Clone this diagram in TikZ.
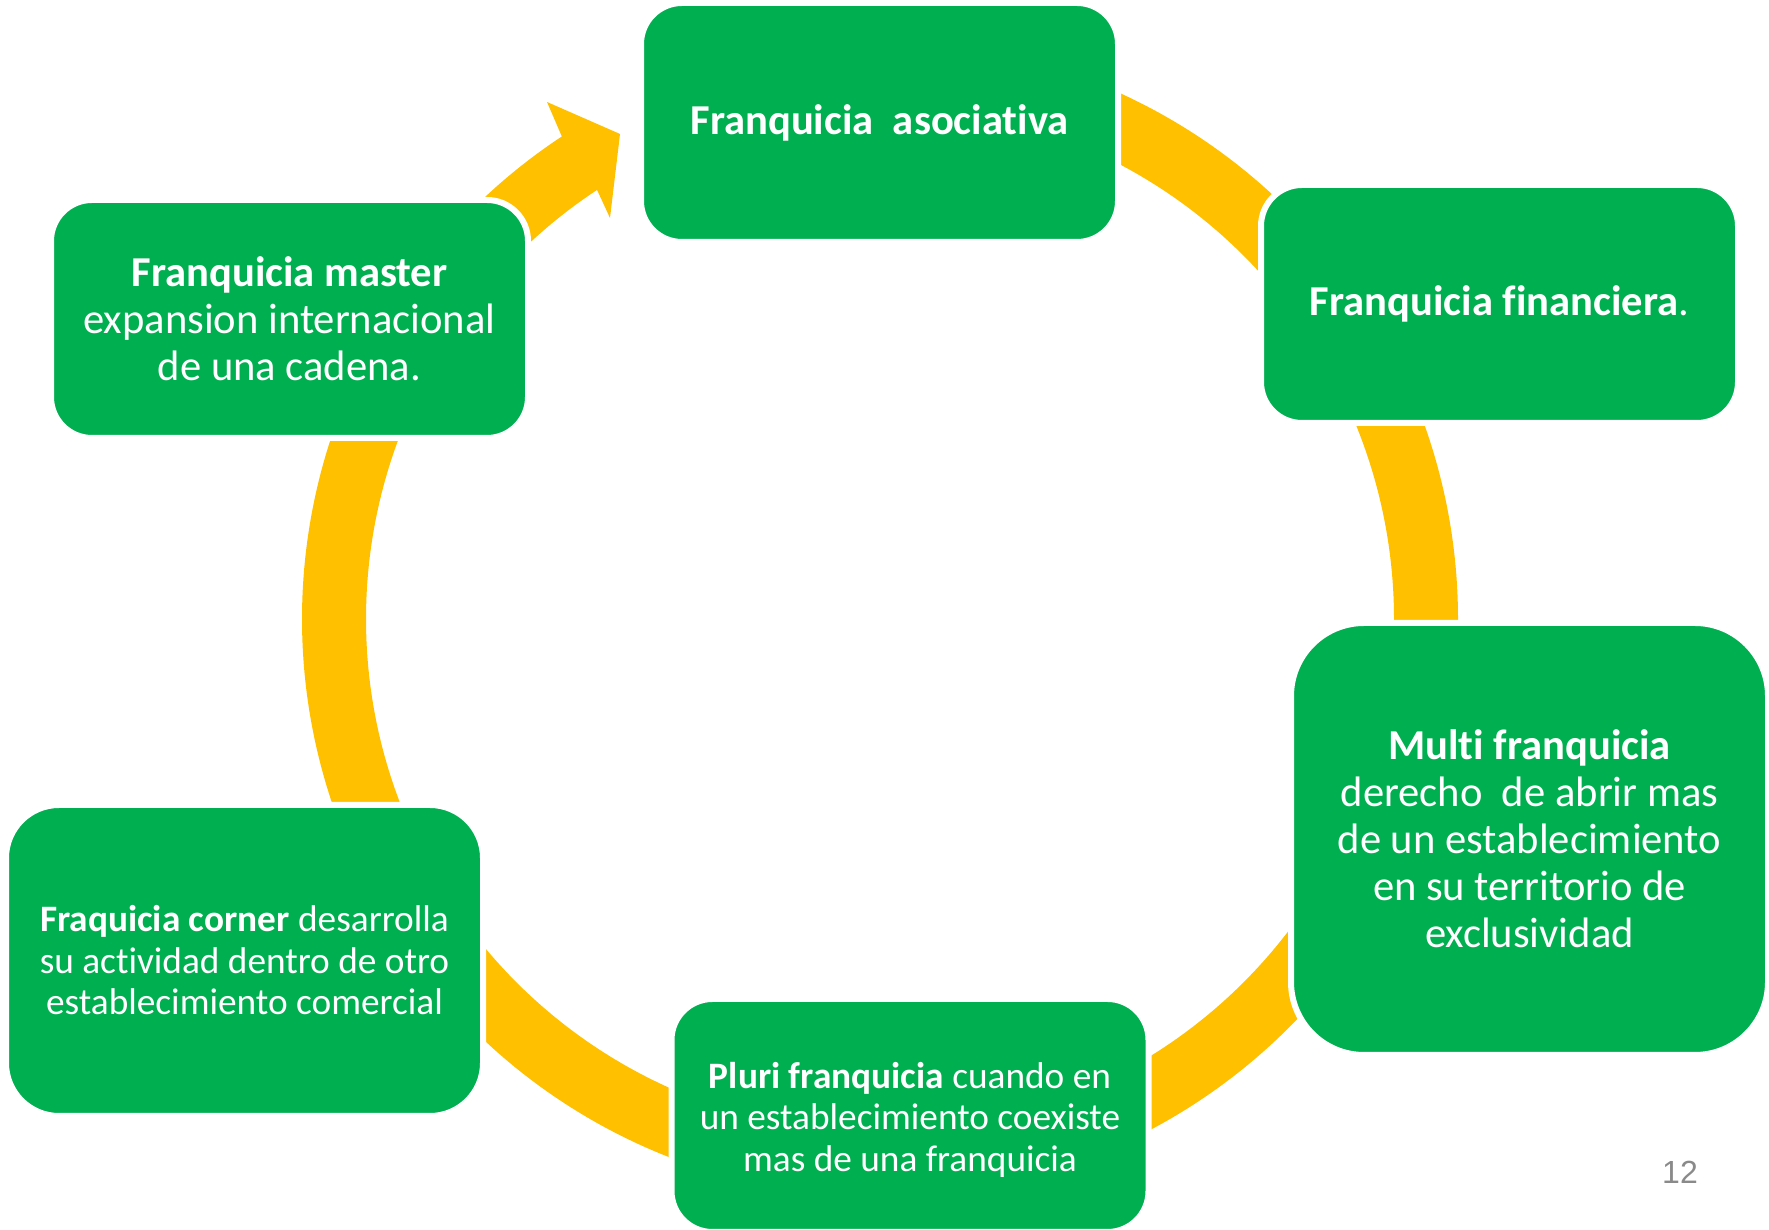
\documentclass[tikz,border=0pt]{standalone}
\usepackage{fontspec}
\setmainfont{Carlito}[Ligatures=NoCommon]
\newfontfamily\numfont{Liberation Sans}
\usetikzlibrary{calc}
\definecolor{sgreen}{HTML}{00B050}
\definecolor{sgold}{HTML}{FFC000}
\definecolor{pnum}{HTML}{8A8A8A}
\newcommand\ringseg[2]{%
  \fill[sgold] ($(C)+(#1:578)$) arc[start angle=#1, end angle=#2, radius=578]
    -- ($(C)+(#2:514)$) arc[start angle=#2, end angle=#1, radius=514] -- cycle;}
\tikzset{
  box/.style={draw=white, line width=6pt, fill=sgreen, text=white, inner sep=0pt,
    align=center, minimum width=477pt},
  boxtext/.style={text=white, inner sep=0pt, align=center},
  bigtxt/.style={font=\fontsize{42.6}{49}\selectfont},
  midtxt/.style={font=\fontsize{42.6}{47}\selectfont},
  smalltxt/.style={font=\fontsize{37.3}{41.5}\selectfont},
}
\begin{document}
\begin{tikzpicture}[x=1pt,y=1pt]
\useasboundingbox (0,0) rectangle (1769,1230);
\coordinate (C) at (880,611);
% ring segments
\ringseg{75}{28}
\ringseg{26}{-6}
\ringseg{-30}{-66}
\ringseg{-100}{-148}
\ringseg{-150}{-215}
% last segment with arrowhead
\coordinate (hb1) at (547,1128);
\coordinate (tip) at (620,1096);
\coordinate (hb2) at (610,1012);
\fill[sgold] ($(C)+(142:578)$) arc[start angle=142, end angle=123.4, radius=578]
  -- (hb1) -- (tip) -- (hb2) -- ($(C)+(123.4:514)$)
  arc[start angle=123.4, end angle=142, radius=514] -- cycle;
% boxes
\node[box, bigtxt, minimum height=239pt, rounded corners=41pt] (n1) at (879.5,1107.5)
  {\textbf{Franquicia\ \ asociativa}};
\node[box, bigtxt, minimum height=238pt, rounded corners=41pt] (n2) at (1499.5,926)
  {\textbf{Franquicia financiera}.};
\node[box, midtxt, minimum height=432pt, rounded corners=73pt] (n3) at (1529.5,391)
  {\textbf{Multi franquicia}\\derecho\ \ de abrir mas\\de un establecimiento\\en su territorio de\\exclusividad};
\node[box, minimum height=233pt, rounded corners=41pt] (n4) at (910,114.5) {};
\node[boxtext, smalltxt] (t4) at ($(n4.center)+(0,-4)$)
  {\textbf{Pluri franquicia} cuando en\\un establecimiento coexiste\\mas de una franquicia};
\node[box, smalltxt, minimum height=311pt, rounded corners=53pt] (n5) at (244.5,269.5)
  {\textbf{Fraquicia corner} desarrolla\\su actividad dentro de otro\\establecimiento comercial};
\node[box, midtxt, minimum height=238pt, rounded corners=41pt] (n6) at (289.5,911)
  {\textbf{Franquicia master}\\expansion internacional\\de una cadena.};
\node[text=pnum, font=\numfont\fontsize{32}{38}\selectfont, inner sep=0pt] (pg) at (1680,58) {12};
\end{tikzpicture}
\end{document}
